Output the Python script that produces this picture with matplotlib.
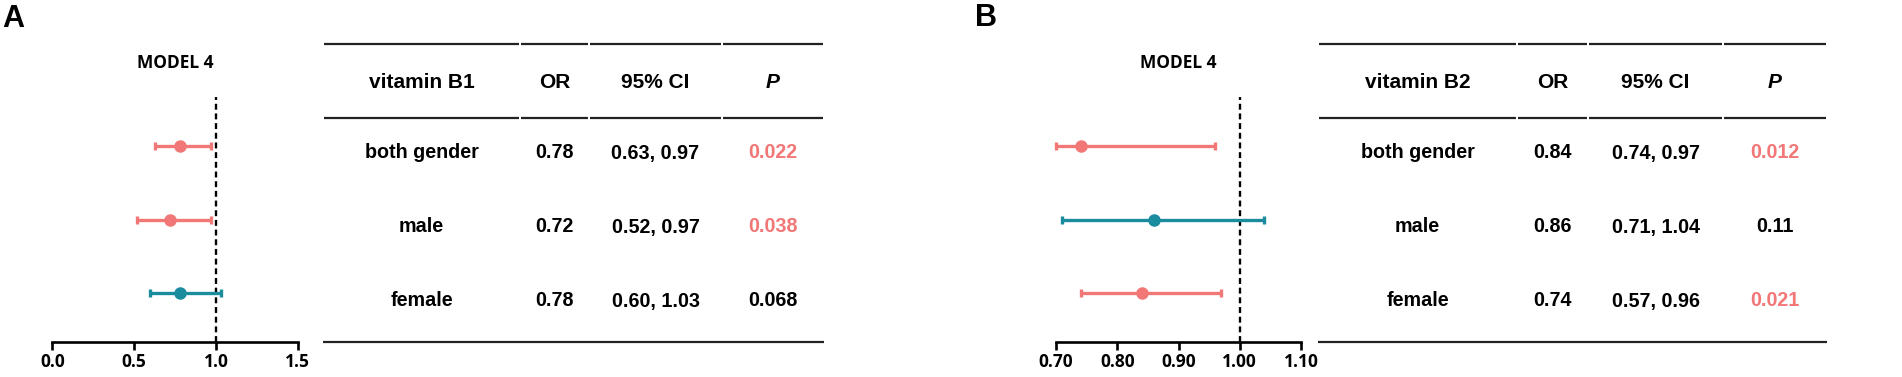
import matplotlib
matplotlib.use("Agg")
import matplotlib.pyplot as plt

# ---- data ----
rows = ["both gender", "male", "female"]
col_heads_a = ["vitamin B1", "OR", "95% CI", "P"]
col_heads_b = ["vitamin B2", "OR", "95% CI", "P"]

# panel A forest plot
a_or = [0.78, 0.72, 0.78]
a_lo = [0.63, 0.52, 0.60]
a_hi = [0.97, 0.97, 1.03]
a_ci = ["0.63, 0.97", "0.52, 0.97", "0.60, 1.03"]
a_p = ["0.022", "0.038", "0.068"]

# panel B forest plot (as drawn in the figure)
b_plot_or = [0.74, 0.86, 0.84]
b_plot_lo = [0.70, 0.71, 0.74]
b_plot_hi = [0.96, 1.04, 0.97]
# panel B table
b_or = [0.84, 0.86, 0.74]
b_ci = ["0.74, 0.97", "0.71, 1.04", "0.57, 0.96"]
b_p = ["0.012", "0.11", "0.021"]

a_ticks = [0.0, 0.5, 1.0, 1.5]
b_ticks = [0.70, 0.80, 0.90, 1.00, 1.10]

PINK = "#f27878"
TEAL = "#1a8c9e"

W, H = 1902, 377
fig = plt.figure(figsize=(W / 100, H / 100), dpi=100)


def forest(left_px, right_px, est, lo, hi, ticks, fmt):
    ax = fig.add_axes([left_px / W, 1 - 342 / H, (right_px - left_px) / W, 245 / H])
    ypos = [3, 2, 1]
    for y, e, l, h in zip(ypos, est, lo, hi):
        c = PINK if h < 1 else TEAL
        ax.errorbar(e, y, xerr=[[e - l], [h - e]], fmt="o", color=c, ms=8,
                    elinewidth=2.4, capsize=2.8, capthick=2.4, clip_on=False, zorder=3)
    ax.axvline(1.0, color="black", lw=1.7, ls=(0, (2.5, 1.6)), zorder=2)
    ax.set_xlim(ticks[0], ticks[-1])
    ax.set_ylim(0.333, 3.667)
    ax.set_xticks(ticks)
    ax.set_xticklabels([fmt.format(t) for t in ticks], fontfamily="Open Sans",
                       fontweight="bold", fontsize=12.5)
    ax.set_yticks([])
    for s in ["left", "top", "right"]:
        ax.spines[s].set_visible(False)
    ax.spines["bottom"].set_linewidth(1.9)
    ax.tick_params(axis="x", direction="out", length=6, width=1.9, pad=2)
    ax.text(0.5, 1.139, "MODEL 4", transform=ax.transAxes, ha="center", va="center",
            fontfamily="Open Sans", fontweight="bold", fontsize=12.5)
    return ax


forest(52.3, 297.7, a_or, a_lo, a_hi, a_ticks, "{:.1f}")
forest(1056, 1301, b_plot_or, b_plot_lo, b_plot_hi, b_ticks, "{:.2f}")

# overlay axes in pixel coordinates for the tables and panel letters
ov = fig.add_axes([0, 0, 1, 1], zorder=-1)
ov.set_xlim(0, W)
ov.set_ylim(H, 0)
ov.axis("off")


def table(bounds, heads, or_vals, ci_vals, p_vals):
    tf = dict(fontfamily="Liberation Sans", fontweight="bold", ha="center", va="center")
    for x0, x1 in zip(bounds[:-1], bounds[1:]):
        for y in (44, 118):
            ov.plot([x0 + 1, x1 - 1], [y, y], color="#222222", lw=1.6, solid_capstyle="butt")
    ov.plot([bounds[0], bounds[-1]], [342, 342], color="#222222", lw=1.6, solid_capstyle="butt")
    centers = [(a + b) / 2 for a, b in zip(bounds[:-1], bounds[1:])]
    for cx, h in zip(centers, heads):
        style = "italic" if h == "P" else "normal"
        ov.text(cx, 82, h, fontsize=15, fontstyle=style, **tf)
    for ry, name, o, ci, p in zip([153, 227, 301], rows, or_vals, ci_vals, p_vals):
        pc = PINK if float(p) < 0.05 else "black"
        ov.text(centers[0], ry, name, fontsize=14.2, **tf)
        ov.text(centers[1], ry, f"{o:.2f}", fontsize=14.2, **tf)
        ov.text(centers[2], ry, ci, fontsize=14.2, **tf)
        ov.text(centers[3], ry, p, fontsize=14.2, color=pc, **tf)


table([323, 520, 589, 722, 824], col_heads_a, a_or, a_ci, a_p)
table([1318, 1517, 1588, 1723, 1827], col_heads_b, b_or, b_ci, b_p)

ov.text(2, 19, "A", fontfamily="Liberation Sans", fontweight="bold", fontsize=22,
        ha="left", va="center")
ov.text(975, 18, "B", fontfamily="Liberation Sans", fontweight="bold", fontsize=22,
        ha="left", va="center")

fig.savefig("out.png", dpi=100)
